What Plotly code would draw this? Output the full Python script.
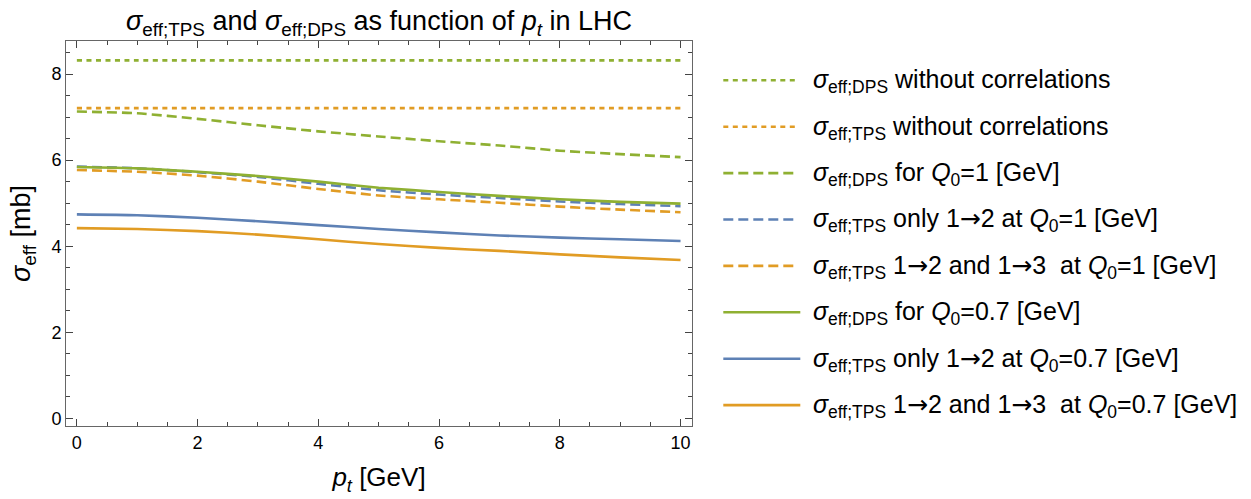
import plotly.graph_objects as go

# ---- data ----
pt = [0, 1, 2, 3, 4, 5, 6, 7, 8, 9, 10]
dps_nocorr = [8.32] * 11
tps_nocorr = [7.21] * 11
dps_q1 = [7.13, 7.09, 6.96, 6.81, 6.67, 6.55, 6.44, 6.34, 6.22, 6.14, 6.07]
tps12_q1 = [5.85, 5.81, 5.72, 5.61, 5.45, 5.30, 5.20, 5.12, 5.04, 4.98, 4.93]
tps123_q1 = [5.77, 5.73, 5.64, 5.50, 5.33, 5.18, 5.09, 5.01, 4.92, 4.85, 4.79]
dps_q07 = [5.84, 5.81, 5.73, 5.63, 5.50, 5.36, 5.26, 5.17, 5.09, 5.03, 4.99]
tps12_q07 = [4.74, 4.72, 4.66, 4.58, 4.49, 4.40, 4.32, 4.25, 4.20, 4.16, 4.12]
tps123_q07 = [4.42, 4.40, 4.35, 4.27, 4.16, 4.05, 3.96, 3.89, 3.81, 3.74, 3.68]

x_ticks = [0, 2, 4, 6, 8, 10]
y_ticks = [0, 2, 4, 6, 8]

GREEN = "#8FB032"
BLUE = "#5E81B5"
ORANGE = "#E19C24"
DOT = "5px,4.5px"
DASH = "10px,5px"

S = "<i>σ</i>"
AR = "<span style=\"font-family:DejaVu Sans\">→</span>"
series = [
    (dps_nocorr, GREEN, DOT, S + "<sub>eff;DPS</sub> without correlations"),
    (tps_nocorr, ORANGE, DOT, S + "<sub>eff;TPS</sub> without correlations"),
    (dps_q1, GREEN, DASH, S + "<sub>eff;DPS</sub> for <i>Q</i><sub>0</sub>=1 [GeV]"),
    (tps12_q1, BLUE, DASH, S + "<sub>eff;TPS</sub> only 1" + AR + "2 at <i>Q</i><sub>0</sub>=1 [GeV]"),
    (tps123_q1, ORANGE, DASH, S + "<sub>eff;TPS</sub> 1" + AR + "2 and 1" + AR + "3  at <i>Q</i><sub>0</sub>=1 [GeV]"),
    (dps_q07, GREEN, "solid", S + "<sub>eff;DPS</sub> for <i>Q</i><sub>0</sub>=0.7 [GeV]"),
    (tps12_q07, BLUE, "solid", S + "<sub>eff;TPS</sub> only 1" + AR + "2 at <i>Q</i><sub>0</sub>=0.7 [GeV]"),
    (tps123_q07, ORANGE, "solid", S + "<sub>eff;TPS</sub> 1" + AR + "2 and 1" + AR + "3  at <i>Q</i><sub>0</sub>=0.7 [GeV]"),
]

W, H = 1251, 499
L, R, T, B = 65.7, 691.7, 40.5, 427.7

fig = go.Figure()
for ys, col, dash, name in series:
    fig.add_trace(go.Scatter(x=pt, y=ys, mode="lines", name=name,
                             line=dict(color=col, width=2.6, dash=dash, shape="spline", smoothing=0.6),
                             showlegend=False))

FONT = "Liberation Sans, Arial, sans-serif"

def px2paper_x(px):
    return (px - L) / (R - L)

def px2paper_y(py):
    return (B - py) / (B - T)

# manual legend
row0, drow = 80.0, 46.67
for i, (ys, col, dash, name) in enumerate(series):
    yy = row0 + i * drow
    x1 = 800 if dash == "solid" else 797
    fig.add_shape(type="line", xref="paper", yref="paper",
                  x0=px2paper_x(723), x1=px2paper_x(x1),
                  y0=px2paper_y(yy), y1=px2paper_y(yy),
                  line=dict(color=col, width=2.6, dash=dash))
    fig.add_annotation(xref="paper", yref="paper", x=px2paper_x(811), y=px2paper_y(yy + 1),
                       text=name, showarrow=False, xanchor="left", yanchor="middle",
                       font=dict(family=FONT, size=25, color="#000"))

# title
fig.add_annotation(xref="paper", yref="paper", x=0.5, y=px2paper_y(22),
                   text="<i>σ</i><sub>eff;TPS</sub> and <i>σ</i><sub>eff;DPS</sub> as function of <i>p<sub>t</sub></i> in LHC",
                   showarrow=False, xanchor="center", yanchor="middle",
                   font=dict(family=FONT, size=27, color="#000"))

axis_common = dict(showline=True, linecolor="#666", linewidth=1, mirror="allticks",
                   ticks="inside", ticklen=7, tickcolor="#444", tickwidth=1,
                   showgrid=False, zeroline=False,
                   tickfont=dict(family=FONT, size=18, color="#000"))

fig.update_layout(
    width=W, height=H,
    margin=dict(l=L, r=W - R, t=T, b=H - B, pad=0),
    paper_bgcolor="white", plot_bgcolor="white",
    xaxis=dict(range=[-0.18, 10.19], tickvals=x_ticks, ticktext=[str(v) for v in x_ticks],
               minor=dict(dtick=0.5, tick0=0, ticks="inside", ticklen=4, tickcolor="#444"),
               title=dict(text="<i>p<sub>t</sub></i> [GeV]", font=dict(family=FONT, size=26, color="#000"), standoff=16),
               **axis_common),
    yaxis=dict(range=[-0.18, 8.77], tickvals=y_ticks, ticktext=[str(v) for v in y_ticks],
               minor=dict(dtick=0.5, tick0=0, ticks="inside", ticklen=4, tickcolor="#444"),
               title=dict(text="<i>σ</i><sub>eff</sub> [mb]", font=dict(family=FONT, size=27, color="#000"), standoff=12),
               **axis_common),
    font=dict(family=FONT),
)

fig.write_html("out.html")
